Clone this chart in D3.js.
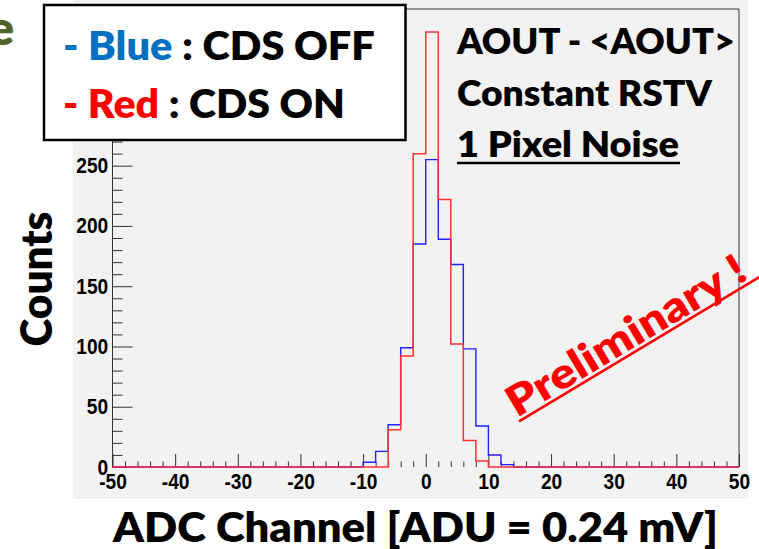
<!DOCTYPE html>
<html>
<head>
<meta charset="utf-8">
<script src="https://cdn.jsdelivr.net/npm/d3@7"></script>
<style>
  html, body { margin: 0; padding: 0; background: #fff; }
  svg { display: block; }
  text { white-space: pre; }
</style>
</head>
<body>
<svg id="chart" width="759" height="549"></svg>
<script>
// histogram data: bins of width 2, starting at -10 (everything else is 0)
const binStart   = -10,
      binWidth   = 2,
      blueCounts = [4, 13, 35, 99, 185, 255, 189, 168, 98, 34, 10, 2],
      redCounts  = [0, 0, 31, 92, 260, 361, 222, 102, 22, 5, 0, 0];

const xMajorTicks = [-50, -40, -30, -20, -10, 0, 10, 20, 30, 40, 50],
      yMajorTicks = [0, 50, 100, 150, 200, 250, 300, 350];

const legendLines = [
  [{t: "- Blue", c: "#0070c0"}, {t: " : CDS OFF", c: "#000"}],
  [{t: "- Red", c: "#ff0000"}, {t: " : CDS ON", c: "#000"}]
];
const noteLines = ["AOUT - <AOUT>", "Constant RSTV", "1 Pixel Noise"];

drawChart();

function drawChart() {
  let svg       = d3.select("#chart"),
      plotLeft  = 112.5,
      plotRight = 739,
      plotTop   = 9,
      plotBot   = 467,
      titleFont = "Lato, 'Open Sans', sans-serif",
      titleWt   = 800,
      tickFont  = "'Liberation Sans', Arial, sans-serif",
      x         = d3.scaleLinear().domain([-50, 50]).range([plotLeft, plotRight]),
      y         = d3.scaleLinear().domain([0, 380]).range([plotBot, plotTop]),
      plainNum  = d => String(d);

  // scale a text horizontally so it is w pixels wide
  function fitText(sel, w, base) {
    let n = sel.node().getComputedTextLength();
    sel.attr("transform", base + " scale(" + (w / n) + ",1)");
  }

  // canvas
  svg.append("rect")
    .attr("x", 73).attr("y", 0).attr("width", 675).attr("height", 499)
    .attr("fill", "#f2f2f2");

  // clipped slide title letter
  svg.append("text")
    .attr("x", 14).attr("y", 45)
    .attr("text-anchor", "end")
    .attr("font-family", titleFont).attr("font-weight", titleWt)
    .attr("font-size", 48).attr("fill", "#4f6228")
    .text("e");

  /////////////////////
  //      Axes       //
  /////////////////////

  let xMinor = d3.range(-50, 50.1, 2).filter(v => v % 10 !== 0),
      yMinor = d3.range(0, 381, 10).filter(v => v % 50 !== 0);

  let xAxisG = svg.append("g").attr("transform", "translate(0," + plotBot + ")");
  xAxisG.call(d3.axisBottom(x).tickValues(xMinor).tickSize(-5.5).tickFormat(""));
  xAxisG.append("g").call(d3.axisBottom(x).tickValues(xMajorTicks).tickSize(-13).tickPadding(6).tickFormat(plainNum));

  let yAxisG = svg.append("g").attr("transform", "translate(" + plotLeft + ",0)");
  yAxisG.call(d3.axisLeft(y).tickValues(yMinor).tickSize(-10).tickFormat(""));
  yAxisG.append("g").call(d3.axisLeft(y).tickValues(yMajorTicks).tickSize(-20).tickPadding(5).tickFormat(plainNum));

  svg.selectAll(".domain").remove();
  svg.selectAll(".tick line").attr("stroke", "#333").attr("stroke-width", 1);
  svg.selectAll(".tick text")
    .attr("font-family", tickFont).attr("font-weight", "bold")
    .attr("font-size", 22).attr("fill", "#000")
    .attr("transform", "scale(0.87,1)");

  // frame
  svg.append("path")
    .attr("d", "M" + plotLeft + "," + plotBot + "V" + plotTop + "H" + plotRight + "V" + plotBot)
    .attr("fill", "none").attr("stroke", "#333").attr("stroke-width", 1);

  /////////////////////
  //   Histograms    //
  /////////////////////

  function histPoints(counts) {
    let pts = [[-50, 0]];
    d3.range(-50, 50, binWidth).forEach(lo => {
      let i = (lo - binStart) / binWidth;
      pts.push([lo, (i >= 0 && i < counts.length) ? counts[i] : 0]);
    });
    pts.push([50, 0]);
    return pts;
  }

  let step = d3.line()
    .x(d => x(d[0]))
    .y(d => y(d[1]))
    .curve(d3.curveStepAfter);

  svg.append("path")
    .attr("d", step(histPoints(blueCounts)))
    .attr("fill", "none").attr("stroke", "#2020ff").attr("stroke-width", 1.4);

  svg.append("path")
    .attr("d", step(histPoints(redCounts)))
    .attr("fill", "none").attr("stroke", "#ff3030").attr("stroke-width", 1.5);

  /////////////////////
  //  Annotations    //
  /////////////////////

  // legend box
  svg.append("rect")
    .attr("x", 44).attr("y", 5).attr("width", 361.5).attr("height", 135)
    .attr("fill", "#fff").attr("stroke", "#000").attr("stroke-width", 2.5);

  let legendWidths = [312, 282];
  legendLines.forEach((line, i) => {
    let t = svg.append("text")
      .attr("font-family", titleFont).attr("font-weight", titleWt)
      .attr("font-size", 39);
    line.forEach(part => t.append("tspan").attr("fill", part.c).text(part.t));
    fitText(t, legendWidths[i], "translate(63," + (60 + i * 58) + ")");
  });

  let noteWidths = [278, 255, 222];
  noteLines.forEach((s, i) => {
    let t = svg.append("text")
      .attr("font-family", titleFont).attr("font-weight", titleWt)
      .attr("font-size", 36).attr("fill", "#000")
      .text(s);
    fitText(t, noteWidths[i], "translate(457," + (54 + i * 51.5) + ")");
  });
  svg.append("line")
    .attr("x1", 457).attr("x2", 680).attr("y1", 163).attr("y2", 163)
    .attr("stroke", "#000").attr("stroke-width", 2.5);

  // preliminary stamp
  let stamp = svg.append("g").attr("transform", "translate(517,418) rotate(-31)");
  let stampText = stamp.append("text")
    .attr("font-family", titleFont).attr("font-weight", titleWt)
    .attr("font-size", 42).attr("fill", "#ff0000")
    .text("Preliminary !");
  fitText(stampText, 272, "translate(0,0)");
  stamp.append("line")
    .attr("x1", 0).attr("x2", 282).attr("y1", 4).attr("y2", 4)
    .attr("stroke", "#ff0000").attr("stroke-width", 2.5);

  // axis titles
  let yTitle = svg.append("text")
    .attr("font-family", titleFont).attr("font-weight", titleWt)
    .attr("font-size", 43).attr("fill", "#000")
    .attr("text-anchor", "middle")
    .text("Counts");
  fitText(yTitle, 135, "translate(52,279) rotate(-90)");

  let xTitle = svg.append("text")
    .attr("font-family", titleFont).attr("font-weight", titleWt)
    .attr("font-size", 42).attr("fill", "#000")
    .attr("text-anchor", "middle")
    .text("ADC Channel [ADU = 0.24 mV]");
  fitText(xTitle, 605, "translate(415.5,542)");
}
</script>
</body>
</html>
